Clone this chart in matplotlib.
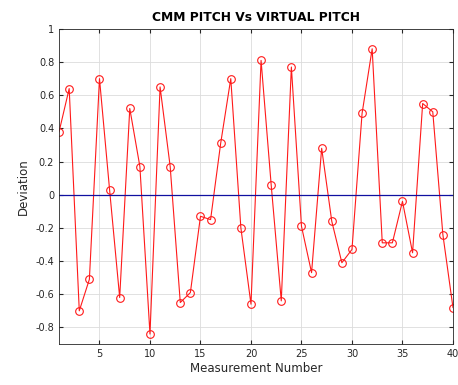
import numpy as np
import matplotlib.pyplot as plt

# measured deviation per pitch position
measurement = np.arange(1, 41)
deviation = [0.38, 0.64, -0.70, -0.51, 0.70, 0.03, -0.62, 0.52, 0.17, -0.84,
             0.65, 0.17, -0.65, -0.59, -0.13, -0.15, 0.31, 0.70, -0.20, -0.66,
             0.81, 0.06, -0.64, 0.77, -0.19, -0.47, 0.28, -0.16, -0.41, -0.33,
             0.49, 0.88, -0.29, -0.29, -0.04, -0.35, 0.55, 0.50, -0.24, -0.68]
xticks = [5, 10, 15, 20, 25, 30, 35, 40]
yticks = [-0.8, -0.6, -0.4, -0.2, 0, 0.2, 0.4, 0.6, 0.8, 1]
ylabels = ['-0.8', '-0.6', '-0.4', '-0.2', '0', '0.2', '0.4', '0.6', '0.8', '1']

fig = plt.figure(figsize=(4.58, 3.85), dpi=100)
ax = fig.add_axes([0.129, 0.1065, 0.86, 0.8185])

ax.plot(measurement, deviation, color='#ff1a1a', lw=0.8, marker='o', ms=5.5,
        mfc='none', mec='#ff1a1a', mew=0.8)
ax.axhline(0, color='#1010a0', lw=0.9)

ax.set_xlim(1, 40)
ax.set_ylim(-0.9, 1)
ax.set_xticks(xticks)
ax.set_yticks(yticks)
ax.set_yticklabels(ylabels)
ax.grid(True, color='#dcdcdc', lw=0.6)
ax.set_axisbelow(True)
ax.tick_params(direction='in', length=3, labelsize=7, colors='#262626',
               top=True, right=True)
for s in ax.spines.values():
    s.set_color('#262626')
    s.set_linewidth(0.6)

ax.set_title('CMM PITCH Vs VIRTUAL PITCH', fontsize=8.8, fontweight='bold', pad=6)
ax.set_xlabel('Measurement Number', fontsize=8.5, color='#262626', labelpad=2)
ax.set_ylabel('Deviation', fontsize=8.5, color='#262626', labelpad=4)

fig.savefig('out.png', dpi=100)
